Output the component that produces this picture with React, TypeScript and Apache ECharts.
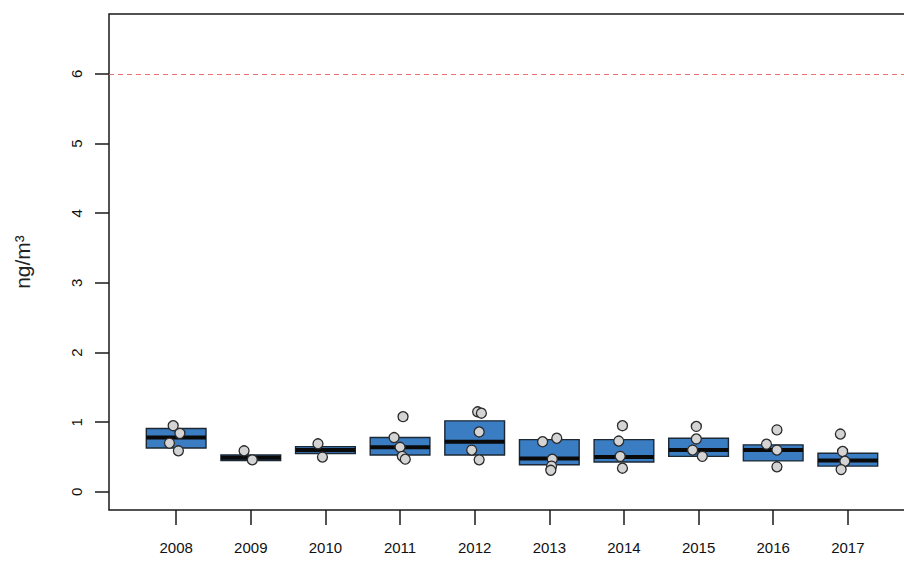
import React, { useEffect, useRef } from "react";
import * as echarts from "echarts";

const years = ["2008", "2009", "2010", "2011", "2012", "2013", "2014", "2015", "2016", "2017"];
const q1 = [0.63, 0.45, 0.55, 0.53, 0.53, 0.39, 0.43, 0.51, 0.445, 0.37];
const medians = [0.78, 0.49, 0.6, 0.64, 0.72, 0.48, 0.5, 0.6, 0.6, 0.45];
const q3 = [0.91, 0.53, 0.65, 0.78, 1.02, 0.75, 0.75, 0.77, 0.675, 0.555];

const pointValues = [
  [0.95, 0.84, 0.7, 0.59],
  [0.59, 0.46],
  [0.69, 0.5],
  [1.08, 0.78, 0.64, 0.51, 0.47],
  [1.15, 1.13, 0.86, 0.6, 0.46],
  [0.77, 0.72, 0.47, 0.37, 0.31],
  [0.95, 0.73, 0.51, 0.34],
  [0.94, 0.76, 0.6, 0.51],
  [0.89, 0.685, 0.6, 0.36],
  [0.83, 0.58, 0.44, 0.32],
];
const pointOffsets = [
  [-0.04, 0.05, -0.09, 0.03],
  [-0.09, 0.02],
  [-0.1, -0.04],
  [0.04, -0.08, 0.0, 0.03, 0.07],
  [0.04, 0.09, 0.06, -0.04, 0.06],
  [0.1, -0.09, 0.04, 0.03, 0.02],
  [-0.02, -0.07, -0.05, -0.02],
  [-0.03, -0.03, -0.08, 0.05],
  [0.05, -0.09, 0.05, 0.05],
  [-0.1, -0.07, -0.04, -0.09],
];
const yTicks = [0, 1, 2, 3, 4, 5, 6];
const limitValue = 6;

export default function App() {
  const ref = useRef<HTMLDivElement>(null);
  useEffect(() => {
    document.body.style.margin = "0";
    const chart = echarts.init(ref.current as HTMLDivElement, null, { renderer: "svg" });
    const positions = years.map((_, i) => i + 1);
    const boxData = years.map((_, i) => [positions[i], q1[i], medians[i], q3[i]]);
    const pts: number[][] = [];
    pointValues.forEach((vals, i) =>
      vals.forEach((v, j) => pts.push([positions[i] + pointOffsets[i][j], v]))
    );
    const font = "Liberation Sans";
    const ink = "#1a1a1a";
    chart.setOption({
      animation: false,
      grid: {
        left: 109,
        width: 806,
        top: 14,
        height: 496,
        containLabel: false,
        outerBoundsMode: "none",
        show: true,
        borderColor: ink,
        borderWidth: 1.5,
        backgroundColor: "transparent",
      },
      xAxis: {
        type: "value",
        min: 0.1,
        max: 10.9,
        axisLine: { show: false, onZero: true, onZeroAxisIndex: 1 },
        splitLine: { show: false },
        axisTick: {
          show: true,
          customValues: positions,
          length: 15,
          lineStyle: { color: ink, width: 1.5 },
        },
        axisLabel: {
          customValues: positions,
          formatter: (v: number) => years[Math.round(v) - 1] ?? "",
          margin: 30,
          fontSize: 15,
          color: "#111",
          fontFamily: font,
        },
      },
      yAxis: [
        {
          type: "value",
          min: -0.26,
          max: 6.86,
          axisLine: { show: false, onZero: false },
          splitLine: { show: false },
          axisTick: {
            show: true,
            customValues: yTicks,
            length: 14,
            lineStyle: { color: ink, width: 1.5 },
          },
          axisLabel: {
            customValues: yTicks,
            rotate: 90,
            align: "center",
            verticalAlign: "bottom",
            margin: 25,
            fontSize: 15,
            color: "#111",
            fontFamily: font,
          },
          name: "ng/m³",
          nameLocation: "middle",
          nameGap: 76,
          nameRotate: 90,
          nameTextStyle: { fontSize: 21, color: "#222", fontFamily: font },
        },
        {
          type: "value",
          min: 0,
          max: 1,
          show: false,
        },
      ],
      series: [
        {
          type: "custom",
          data: boxData,
          encode: { x: 0, y: [1, 2, 3] },
          z: 2,
          renderItem: (params: any, api: any) => {
            const x = api.value(0);
            const lo = api.value(1);
            const med = api.value(2);
            const hi = api.value(3);
            const tl = api.coord([x - 0.4, hi]);
            const br = api.coord([x + 0.4, lo]);
            const ml = api.coord([x - 0.4, med]);
            const mr = api.coord([x + 0.4, med]);
            return {
              type: "group",
              children: [
                {
                  type: "rect",
                  shape: { x: tl[0], y: tl[1], width: br[0] - tl[0], height: br[1] - tl[1] },
                  style: { fill: "#3a7dc2", stroke: "#1c2833", lineWidth: 1.4 },
                },
                {
                  type: "line",
                  shape: { x1: ml[0], y1: ml[1], x2: mr[0], y2: mr[1] },
                  style: { stroke: "#0a0a0a", lineWidth: 4 },
                },
              ],
            };
          },
        },
        {
          type: "scatter",
          data: pts,
          z: 3,
          symbol: "circle",
          symbolSize: 10,
          itemStyle: { color: "#d4d4d4", borderColor: "#2a2a2a", borderWidth: 1.3, opacity: 1 },
          markLine: {
            silent: true,
            symbol: "none",
            label: { show: false },
            data: [{ yAxis: limitValue }],
            lineStyle: { color: "#ec6f6f", type: [5, 4], width: 1.2 },
          },
        },
      ],
    });
    return () => chart.dispose();
  }, []);
  return <div ref={ref} style={{ width: 904, height: 561 }} />;
}
